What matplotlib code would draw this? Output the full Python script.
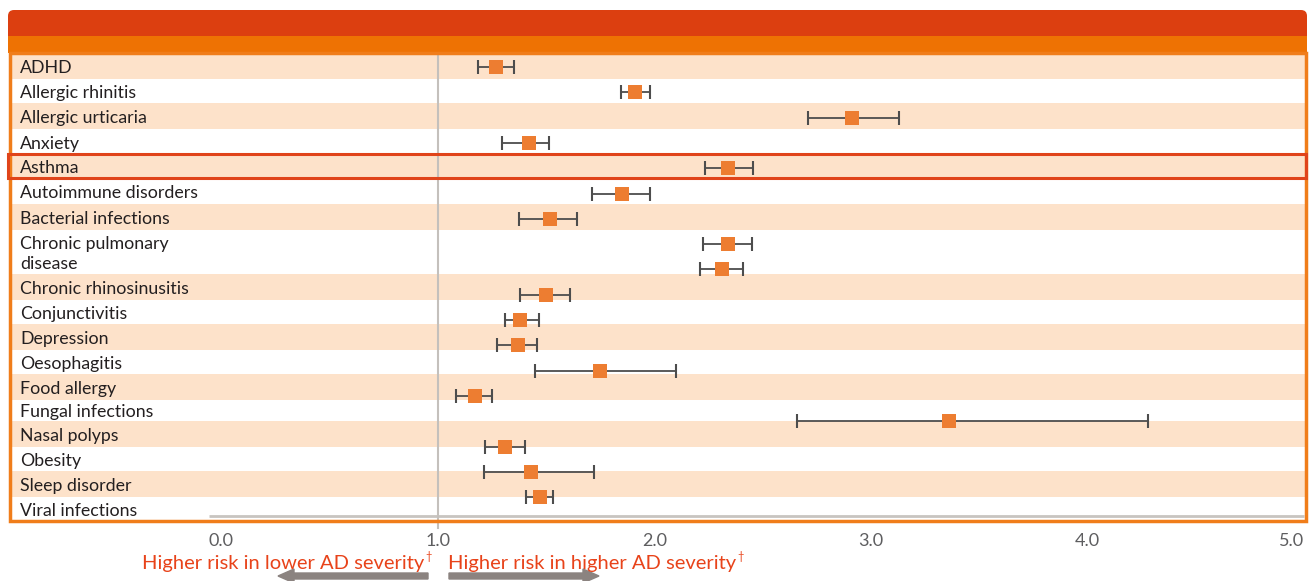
import numpy as np
import matplotlib.pyplot as plt
from matplotlib.patches import Rectangle, FancyBboxPatch, FancyArrow
from matplotlib.transforms import IdentityTransform

plt.rcParams['font.family'] = ['Lato', 'DejaVu Sans']

conditions = [
    "ADHD", "Allergic rhinitis", "Allergic urticaria", "Anxiety", "Asthma",
    "Autoimmune disorders", "Bacterial infections", "Chronic pulmonary\ndisease",
    "Chronic rhinosinusitis", "Conjunctivitis", "Depression", "Oesophagitis",
    "Food allergy", "Fungal infections", "Nasal polyps", "Obesity",
    "Sleep disorder", "Viral infections",
]
odds = [1.27, 1.91, 2.91, 1.42, 2.34, 1.85, 1.52, 2.34, 2.31, 1.50,
        1.38, 1.37, 1.75, 1.17, 3.36, 1.31, 1.43, 1.47]
lower = [1.185, 1.845, 2.71, 1.296, 2.232, 1.71, 1.375, 2.223, 2.21, 1.38,
         1.31, 1.273, 1.45, 1.084, 2.657, 1.218, 1.213, 1.407]
upper = [1.35, 1.98, 3.13, 1.513, 2.454, 1.98, 1.642, 2.449, 2.408, 1.61,
         1.467, 1.458, 2.10, 1.25, 4.28, 1.402, 1.72, 1.531]
xticks = [0, 1, 2, 3, 4, 5]
xticklabels = ["0.0", "1.0", "2.0", "3.0", "4.0", "5.0"]
highlight = "Asthma"
left_note = "Higher risk in lower AD severity"
right_note = "Higher risk in higher AD severity"

# row heights of the label column (px), chronic pulmonary wraps over 2 lines
row_px = [26, 24, 26, 25, 24, 26, 26, 44, 26, 24, 26, 24, 26, 21, 26, 24, 26, 24]

W, H = 1311, 581
PEACH = "#FDE2CA"
RED = "#DC3F10"
ORANGE = "#EE7203"
BORDER = "#F07D1A"
MARK = "#ED7D31"
GREYTXT = "#5E5E60"
NOTE = "#E8431A"

fig = plt.figure(figsize=(W / 100, H / 100), dpi=100)

def fx(px):
    return px / W

def fy(py):
    return 1 - py / H

body_top, body_bot = 53, 521
pos = [fx(10), fy(body_bot), fx(1306) - fx(10), fy(body_top) - fy(body_bot)]
xlim = (-0.974, 5.007)

# background: bands + labels
ax_bg = fig.add_axes(pos)
ax_bg.set_xlim(*xlim)
ax_bg.set_ylim(sum(row_px), 0)
ax_bg.axis("off")
edges = np.concatenate([[0], np.cumsum(row_px)])
for i, name in enumerate(conditions):
    if i % 2 == 0:
        ax_bg.axhspan(edges[i], edges[i + 1], color=PEACH, lw=0)
    ax_bg.text(-0.928, (edges[i] + edges[i + 1]) / 2 + 2, name, va="center", ha="left",
               fontsize=12.8, color="#231F20", linespacing=1.35)
ax_bg.hlines(sum(row_px) - 5, -0.055, 5.0, color="#C8C4C0", lw=2)

# data axes
ax = fig.add_axes(pos)
ax.patch.set_alpha(0)
ax.set_xlim(*xlim)
ax.set_ylim(17.94, -0.553)
for s in ax.spines.values():
    s.set_visible(False)
ax.set_yticks([])
ax.set_xticks(xticks)
ax.set_xticklabels(xticklabels, fontsize=13, color=GREYTXT)
ax.tick_params(axis="x", length=0, pad=9)
ax.get_xticklabels()[-1].set_horizontalalignment("right")

ax.axvline(1.0, ymin=-7 / 468, ymax=1, color="#C4C0BC", lw=1.5, clip_on=False, zorder=1)

y = np.arange(len(odds))
o = np.array(odds)
err = [o - np.array(lower), np.array(upper) - o]
eb = ax.errorbar(o, y, xerr=err, fmt="none", ecolor="#4D4D4D", elinewidth=1.3,
                 capsize=5, capthick=1.5, zorder=2)
for cap in eb[1]:
    cap.set_color("#8A8A8A")
ax.scatter(o, y, marker="s", s=88, color=MARK, zorder=3, linewidths=0)

# header (pixel coords)
pix = IdentityTransform()
fig.patches.append(FancyBboxPatch((8, H - 46), 1299, 36,
                                  boxstyle="round,pad=0,rounding_size=6",
                                  transform=pix, fc=RED, ec="none"))
fig.patches.append(Rectangle((8, H - 53), 1299, 17, transform=pix, fc=ORANGE, ec="none"))
# body border
fig.patches.append(Rectangle((10, H - 521), 1296, 468, transform=pix,
                             fc="none", ec=BORDER, lw=2.5))
# highlighted row
hi = conditions.index(highlight)
top_px = body_top + edges[hi]
bot_px = body_top + edges[hi + 1]
fig.patches.append(Rectangle((8, H - bot_px), 1298, bot_px - top_px, transform=pix,
                             fc="none", ec="#E0441A", lw=2.2))

# bottom direction labels
tl = fig.text(fx(424), fy(563), left_note, ha="right", va="center",
              fontsize=14.5, color=NOTE)
fig.text(fx(425), fy(557), "\u2020", ha="left", va="center", fontsize=8, color=NOTE)
tr = fig.text(fx(448), fy(563), right_note, ha="left", va="center",
              fontsize=14.5, color=NOTE)
fig.canvas.draw()
bb = tr.get_window_extent()
fig.text(bb.x1 + 1, H - 557, "\u2020", ha="left", va="center", fontsize=8,
         color=NOTE, transform=pix)

arrow_kw = dict(width=6, head_width=14, head_length=16, length_includes_head=True,
                color="#8B8380", transform=pix)
fig.patches.append(FancyArrow(428, H - 576, -150, 0, **arrow_kw))
fig.patches.append(FancyArrow(449, H - 576, 150, 0, **arrow_kw))

fig.savefig("out.png", dpi=100)
